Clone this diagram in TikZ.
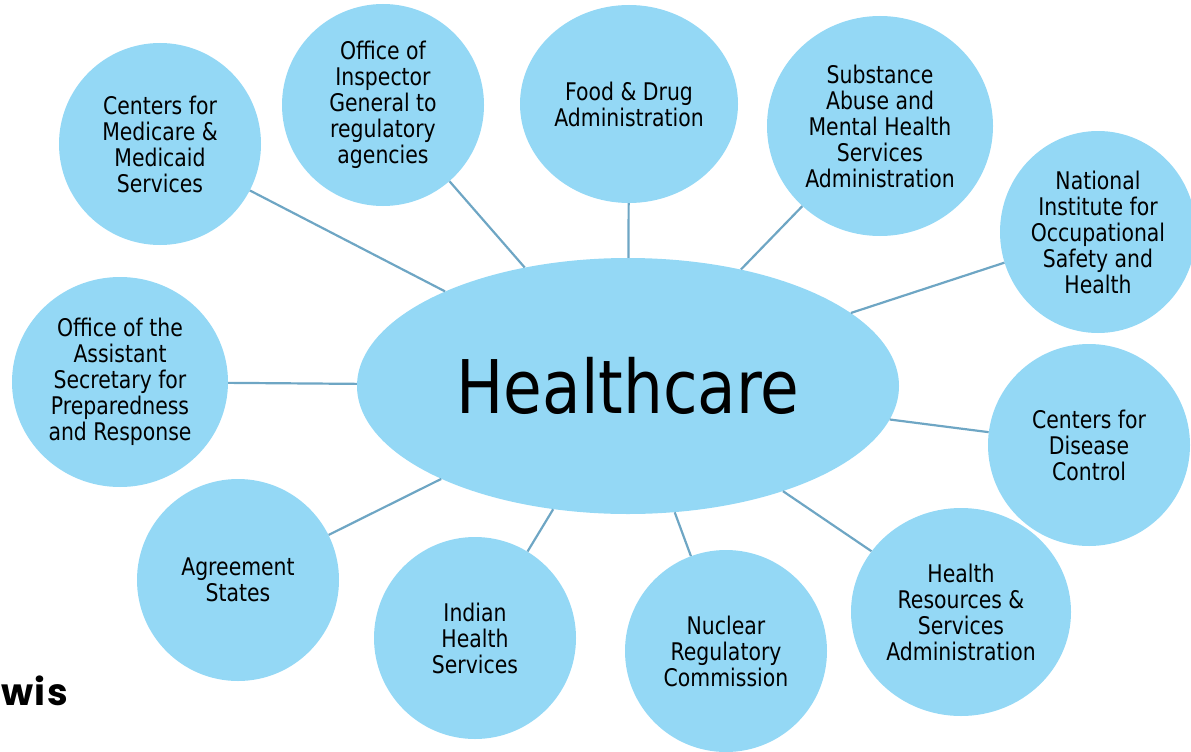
\documentclass[tikz,border=0pt]{standalone}
\usepackage{fontspec}
\setmainfont{DejaVu Sans}[FakeStretch=0.84]
\newfontfamily\hubfont{DejaVu Sans}[FakeStretch=0.85]
\newfontfamily\logofont{Poppins}[LetterSpace=4]
\usetikzlibrary{shapes.geometric}
\definecolor{bubble}{RGB}{148,216,245}
\definecolor{spoke}{RGB}{110,166,196}
\tikzset{
  agency/.style={ellipse, fill=bubble, draw=none, inner sep=-20pt,
    align=center, text=black,
    font=\fontsize{24.3}{26}\selectfont},
  hub/.style={ellipse, fill=bubble, draw=none, inner sep=-40pt,
    text=black, font=\hubfont\fontsize{74}{80}\selectfont},
  link/.style={draw=spoke, line width=2.2pt}
}
\begin{document}
\begin{tikzpicture}[x=1pt, y=-1pt]
\useasboundingbox (0,0) rectangle (1191,752);

% central topic
\node[hub, minimum width=542pt, minimum height=256pt] (hc) at (628,386) {Healthcare};

% surrounding agencies
\node[agency, minimum width=202pt, minimum height=202pt] (cms) at (160,144)
  {Centers for\\Medicare \&\\Medicaid\\Services};
\node[agency, minimum width=202pt, minimum height=202pt] (oig) at (383,105)
  {Office of\\Inspector\\General to\\regulatory\\agencies};
\node[agency, minimum width=218pt, minimum height=198pt] (fda) at (629,104)
  {Food \& Drug\\Administration};
\node[agency, minimum width=226pt, minimum height=220pt] (samhsa) at (880,126)
  {Substance\\Abuse and\\Mental Health\\Services\\Administration};
\node[agency, minimum width=196pt, minimum height=202pt] (niosh) at (1098,232)
  {National\\Institute for\\Occupational\\Safety and\\Health};
\node[agency, minimum width=202pt, minimum height=202pt] (cdc) at (1089,445)
  {Centers for\\Disease\\Control};
\node[agency, minimum width=220pt, minimum height=208pt] (hrsa) at (961,612)
  {Health\\Resources \&\\Services\\Administration};
\node[agency, minimum width=202pt, minimum height=202pt] (nrc) at (726,651)
  {Nuclear\\Regulatory\\Commission};
\node[agency, minimum width=202pt, minimum height=202pt] (ihs) at (475,638)
  {Indian\\Health\\Services};
\node[agency, minimum width=202pt, minimum height=202pt] (agr) at (238,580)
  {Agreement\\States};
\node[agency, minimum width=216pt, minimum height=210pt] (aspr) at (120,382)
  {Office of the\\Assistant\\Secretary for\\Preparedness\\and Response};

% spokes from the hub
\foreach \n in {cms,oig,fda,samhsa,niosh,cdc,hrsa,nrc,ihs,agr,aspr}
  \draw[link] (hc) -- (\n);

% logo fragment
\node[anchor=base east, inner sep=0pt, text=black,
  font=\logofont\bfseries\fontsize{37}{40}\selectfont] (logo) at (68,705) {wis};
\end{tikzpicture}
\end{document}
